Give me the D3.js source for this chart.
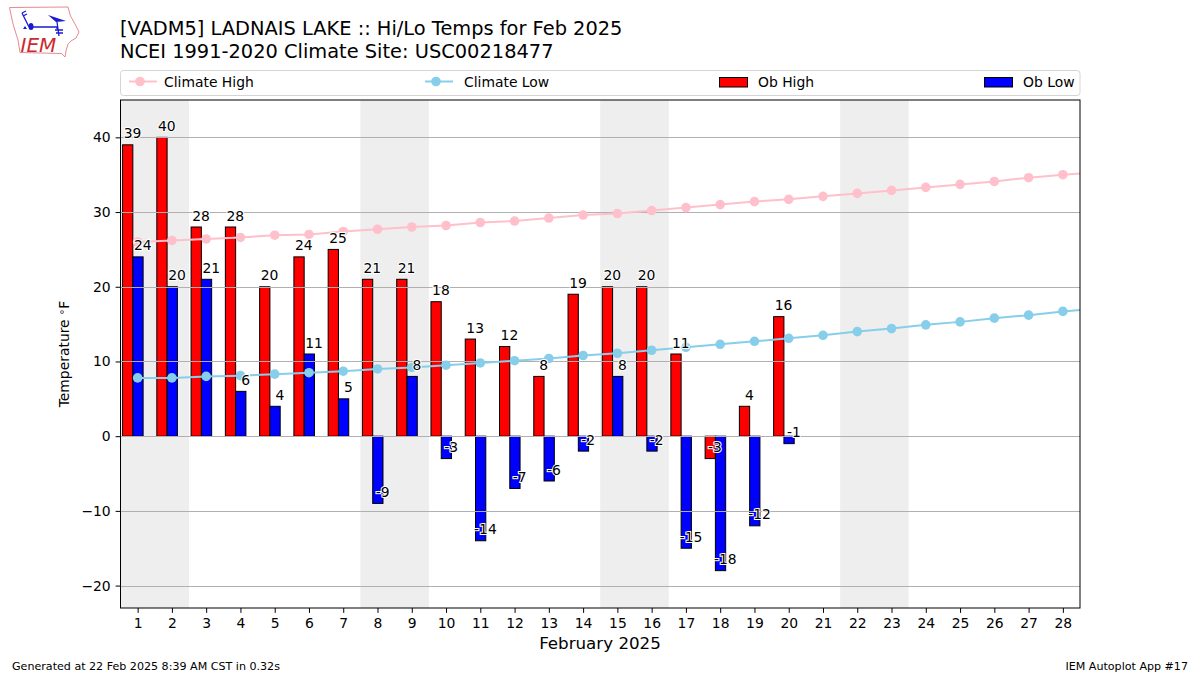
<!DOCTYPE html>
<html>
<head>
<meta charset="utf-8">
<script src="https://cdn.jsdelivr.net/npm/d3@7"></script>
<style>
  html, body { margin: 0; padding: 0; background: #fff; }
  text { font-family: "DejaVu Sans", sans-serif; fill: #000; }
</style>
</head>
<body>
<svg id="chart" width="1200" height="675"></svg>
<script>
const titleLines = ['[VADM5] LADNAIS LAKE :: Hi/Lo Temps for Feb 2025', 'NCEI 1991-2020 Climate Site: USC00218477'];
const days = d3.range(1, 29);
const yTicks = [-20, -10, 0, 10, 20, 30, 40];
const weekends = [[1, 2], [8, 9], [15, 16], [22, 23]];

// day 29 of the climate arrays runs off the right edge, line gets clipped
const climateHigh = [26.0, 26.2, 26.4, 26.6, 26.9, 27.0, 27.4, 27.7, 28.0, 28.2, 28.6, 28.8, 29.2, 29.6, 29.8,
                     30.2, 30.6, 31.0, 31.4, 31.7, 32.1, 32.5, 32.9, 33.3, 33.7, 34.1, 34.6, 35.0, 35.3];
const climateLow = [7.8, 7.8, 8.0, 8.1, 8.3, 8.5, 8.7, 9.0, 9.2, 9.5, 9.8, 10.1, 10.4, 10.8, 11.1,
                    11.5, 11.9, 12.3, 12.7, 13.1, 13.5, 14.0, 14.4, 14.9, 15.3, 15.8, 16.2, 16.7, 17.1];
const obHigh = [39, 40, 28, 28, 20, 24, 25, 21, 21, 18, 13, 12, 8, 19, 20, 20, 11, -3, 4, 16];
const obLow = [24, 20, 21, 6, 4, 11, 5, -9, 8, -3, -14, -7, -6, -2, 8, -2, -15, -18, -12, -1];

const plot = {left: 120.5, right: 1080, top: 100, bottom: 608};
const svg = d3.select('#chart');

const x = d3.scaleLinear().domain([0.5, 28.5]).range([plot.left, plot.right]);
const y = d3.scaleLinear().domain([-23, 45]).range([plot.bottom, plot.top]);
const barWidth = x(0.8) - x(0.5);

svg.append('defs').append('clipPath').attr('id', 'plot-clip')
    .append('rect')
    .attr('x', plot.left).attr('y', plot.top)
    .attr('width', plot.right - plot.left).attr('height', plot.bottom - plot.top);

const g = svg.append('g').attr('clip-path', 'url(#plot-clip)');

g.selectAll('.weekend').data(weekends).enter().append('rect')
    .attr('class', 'weekend')
    .attr('x', d => x(d[0] - 0.5))
    .attr('width', d => x(d[1] + 0.5) - x(d[0] - 0.5))
    .attr('y', plot.top)
    .attr('height', plot.bottom - plot.top)
    .attr('fill', '#eeeeee');

function drawBars(values, offset, color) {
    g.selectAll('.bar-' + color).data(values).enter().append('rect')
        .attr('class', 'bar-' + color)
        .attr('x', (d, i) => x(i + 1 + offset) - barWidth / 2)
        .attr('width', barWidth)
        .attr('y', d => Math.min(y(d), y(0)))
        .attr('height', d => Math.abs(y(d) - y(0)))
        .attr('fill', color)
        .attr('stroke', '#000')
        .attr('stroke-width', 1);
}
drawBars(obHigh, -0.29, 'red');
drawBars(obLow, 0.01, 'blue');

// grid sits over the bars in the reference
g.selectAll('.grid').data(yTicks).enter().append('line')
    .attr('class', 'grid')
    .attr('x1', plot.left).attr('x2', plot.right)
    .attr('y1', d => Math.round(y(d)) + 0.5).attr('y2', d => Math.round(y(d)) + 0.5)
    .attr('stroke', '#b0b0b0')
    .attr('stroke-width', 1);

function drawClimate(values, color) {
    const line = d3.line().x((d, i) => x(i + 1)).y(d => y(d));
    g.append('path')
        .attr('d', line(values))
        .attr('fill', 'none')
        .attr('stroke', color)
        .attr('stroke-width', 2);
    g.selectAll('.dot-' + color).data(values).enter().append('circle')
        .attr('class', 'dot-' + color)
        .attr('cx', (d, i) => x(i + 1))
        .attr('cy', d => y(d))
        .attr('r', 4.8)
        .attr('fill', color);
}
drawClimate(climateHigh, 'pink');
drawClimate(climateLow, 'skyblue');

function drawLabels(values, offset) {
    svg.append('g').selectAll('text').data(values).enter().append('text')
        .attr('x', (d, i) => x(i + 1 + offset))
        .attr('y', d => y(d) - 6.5)
        .attr('text-anchor', 'middle')
        .attr('font-size', '13.9px')
        .attr('stroke', '#fff')
        .attr('stroke-width', 2)
        .attr('paint-order', 'stroke')
        .text(d => d);
}
drawLabels(obHigh, -0.15);
drawLabels(obLow, 0.15);

// axes
const xAxis = d3.axisBottom(x).tickValues(days).tickFormat(d3.format('d')).tickSize(4.9).tickPadding(4.9);
const yAxis = d3.axisLeft(y).tickValues(yTicks).tickSize(4.9).tickPadding(4.9)
    .tickFormat(d => String(d).replace('-', '\u2212'));
[svg.append('g').attr('transform', 'translate(0,' + plot.bottom + ')').call(xAxis),
 svg.append('g').attr('transform', 'translate(' + plot.left + ',0)').call(yAxis)].forEach(a => {
    a.select('.domain').remove();
    a.selectAll('line').attr('stroke', '#000').attr('stroke-width', 1);
    a.selectAll('text').attr('font-size', '13.9px').attr('font-family', '"DejaVu Sans"').attr('fill', '#000');
});

svg.append('rect')
    .attr('x', plot.left).attr('y', plot.top)
    .attr('width', plot.right - plot.left).attr('height', plot.bottom - plot.top)
    .attr('fill', 'none').attr('stroke', '#000').attr('stroke-width', 1);

svg.append('text').attr('x', 600).attr('y', 649)
    .attr('text-anchor', 'middle').attr('font-size', '16.7px').text('February 2025');

const yLabel = svg.append('text')
    .attr('transform', 'translate(69,354) rotate(-90)')
    .attr('text-anchor', 'middle').attr('font-size', '13.9px');
yLabel.append('tspan').text('Temperature ');
yLabel.append('tspan').attr('dy', -4).attr('font-size', '10px').text('\u2218');
yLabel.append('tspan').attr('dy', 4).text('F');

// title + footers
svg.selectAll('.title').data(titleLines).enter().append('text')
    .attr('class', 'title')
    .attr('x', 120)
    .attr('y', (d, i) => 35 + i * 22.5)
    .attr('font-size', '19.4px')
    .text(d => d);

svg.append('text').attr('x', 12).attr('y', 670).attr('font-size', '11.1px')
    .text('Generated at 22 Feb 2025 8:39 AM CST in 0.32s');
svg.append('text').attr('x', 1188).attr('y', 670).attr('text-anchor', 'end').attr('font-size', '11.1px')
    .text('IEM Autoplot App #17');

// legend
const legend = svg.append('g');
legend.append('rect')
    .attr('x', 120.5).attr('y', 70.5).attr('width', 959.5).attr('height', 25).attr('rx', 3)
    .attr('fill', '#fff').attr('stroke', '#d5d5d5').attr('stroke-width', 1);

const lineItems = [['Climate High', 'pink', 129, 164], ['Climate Low', 'skyblue', 425, 464]];
lineItems.forEach(d => {
    legend.append('line')
        .attr('x1', d[2]).attr('x2', d[2] + 28).attr('y1', 81.5).attr('y2', 81.5)
        .attr('stroke', d[1]).attr('stroke-width', 2);
    legend.append('circle').attr('cx', d[2] + 11).attr('cy', 81.5).attr('r', 4.8).attr('fill', d[1]);
    legend.append('text').attr('x', d[3]).attr('y', 86.5).attr('font-size', '13.9px').text(d[0]);
});
const barItems = [['Ob High', 'red', 719.5, 758], ['Ob Low', 'blue', 984.5, 1023]];
barItems.forEach(d => {
    legend.append('rect')
        .attr('x', d[2]).attr('y', 77.5).attr('width', 28).attr('height', 9.5)
        .attr('fill', d[1]).attr('stroke', '#000').attr('stroke-width', 1);
    legend.append('text').attr('x', d[3]).attr('y', 86.5).attr('font-size', '13.9px').text(d[0]);
});

// IEM logo, just hand traced
const logo = svg.append('g');
logo.append('path')
    .attr('d', 'M9.5,7.5 L68,7 L70.5,16 L75,24 L79,32 L76,38 L71,41 L68,44 L66,51 L65,57 L61.5,53.5 L20,52.5 L18,40 L13,24 Z')
    .attr('fill', 'none').attr('stroke', '#e88a8e').attr('stroke-width', 1);
logo.append('path')
    .attr('d', 'M31,27 L57,27 M57,27 L57,29 M29,27 L22,13 M22,13 L26,11 M23,16 L27,14 M57,22 L59,36 M55,30 L63,30 M56,33 L63,33')
    .attr('fill', 'none').attr('stroke', '#1a1ad0').attr('stroke-width', 1.3);
logo.append('ellipse').attr('cx', 31).attr('cy', 26.5).attr('rx', 2.5).attr('ry', 3.5).attr('fill', '#1a1ad0');
logo.append('path').attr('d', 'M48,15 L66,21 L56,22 Z').attr('fill', '#1a1ad0');
logo.append('path').attr('d', 'M23,29 L25,26 L27,29 Z').attr('fill', '#1a1ad0');
logo.append('text').attr('x', 20.5).attr('y', 52).attr('font-family', '"Liberation Serif"')
    .attr('font-style', 'italic').attr('font-size', '20px').style('fill', '#cc2a2f').text('IEM');
</script>
</body>
</html>
